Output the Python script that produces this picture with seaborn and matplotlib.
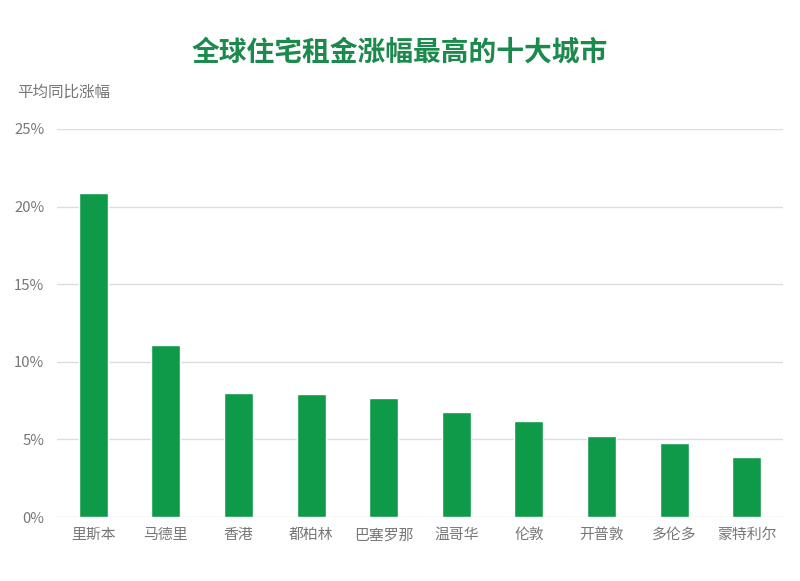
import matplotlib
matplotlib.use("Agg")
import matplotlib.pyplot as plt
import seaborn as sns
import pandas as pd
from matplotlib.ticker import FuncFormatter

cities = ['里斯本', '马德里', '香港', '都柏林', '巴塞罗那', '温哥华', '伦敦', '开普敦', '多伦多', '蒙特利尔']
growth = [20.9, 11.1, 8.0, 7.9, 7.7, 6.8, 6.2, 5.2, 4.8, 3.9]
yticks = [0, 5, 10, 15, 20, 25]

df = pd.DataFrame({'city': cities, 'growth': growth})

sns.set_theme(style='white')
plt.rcParams['font.family'] = ['Noto Sans CJK SC', 'DejaVu Sans']

fig = plt.figure(figsize=(8, 5.81), dpi=100)
ax = fig.add_axes([0.071, 0.110, 0.908, 0.668])

sns.barplot(data=df, x='city', y='growth', color='#0f9a4a', width=0.4,
            saturation=1, ax=ax, zorder=3)

ax.set_ylim(0, 25)
ax.set_xlim(-0.5, len(cities) - 0.5)
ax.set_yticks(yticks)
ax.yaxis.set_major_formatter(FuncFormatter(lambda v, p: f'{v:.0f}%'))
ax.grid(axis='y', color='#dcdcdc', linewidth=1, zorder=0)
for s in ax.spines.values():
    s.set_visible(False)
ax.tick_params(axis='both', length=0, labelsize=10.7, colors='#777777')
ax.tick_params(axis='y', pad=9)
ax.tick_params(axis='x', pad=8)
ax.set_xlabel('')
ax.set_ylabel('')

fig.text(0.5, 0.91, '全球住宅租金涨幅最高的十大城市', ha='center', va='center',
         fontsize=20, fontweight='bold', color='#1b8a4c')
fig.text(0.022, 0.842, '平均同比涨幅', ha='left', va='center', fontsize=11.2, color='#777777')

fig.savefig('out.png', dpi=100, facecolor='white')
